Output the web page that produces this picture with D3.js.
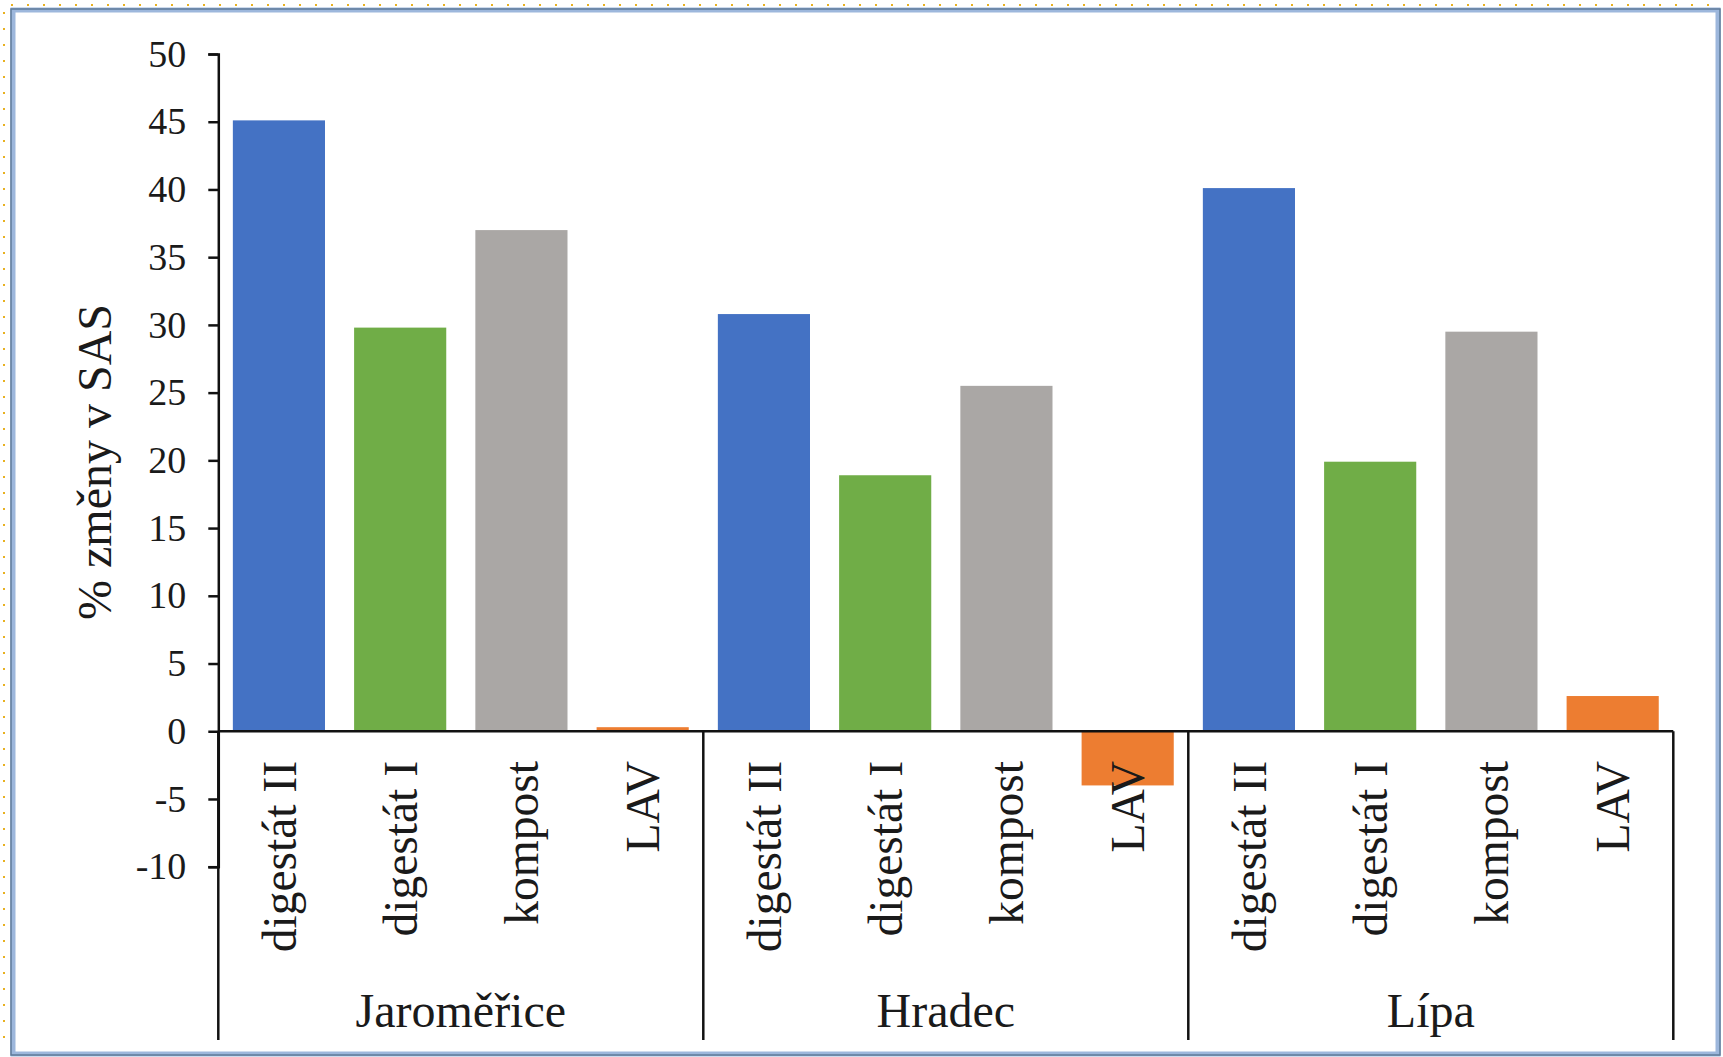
<!DOCTYPE html>
<html>
<head>
<meta charset="utf-8">
<script src="https://cdn.jsdelivr.net/npm/d3@7"></script>
<style>
  html, body { margin: 0; padding: 0; background: #ffffff; }
  svg { display: block; }
  text { font-family: "Liberation Serif", "Times New Roman", serif; fill: #1a1a1a; }
</style>
</head>
<body>
<svg id="chart" width="1723" height="1057"></svg>
<script>
// Sites (outer category level) and treatments (inner level)
const sites = ["Jaroměřice", "Hradec", "Lípa"];
const treatments = ["digestát II", "digestát I", "kompost", "LAV"];

// % change in SAS per treatment, one array per site
const jaromericeValues = [45.1, 29.8, 37.0, 0.3];
const hradecValues = [30.8, 18.9, 25.5, -4.0];
const lipaValues = [40.1, 19.9, 29.5, 2.6];

const yTicks = [-10, -5, 0, 5, 10, 15, 20, 25, 30, 35, 40, 45, 50];
const treatmentColors = ["#4472C4", "#70AD47", "#AAA7A5", "#ED7D31"];

const siteValues = [jaromericeValues, hradecValues, lipaValues];
const rows = [];
sites.forEach((s, i) => {
  treatments.forEach((t, j) => {
    rows.push({ site: s, treatment: t, key: s + "|" + t, value: siteValues[i][j], ti: j });
  });
});

const svg = d3.select("#chart");
const W = 1723, H = 1057;

// Frame around the chart object
svg.append("rect").attr("x", 0).attr("y", 0).attr("width", W).attr("height", H).attr("fill", "#ffffff");
const dotsTop = d3.range(12, W - 10, 16);
svg.append("g").selectAll("rect").data(dotsTop).join("rect")
  .attr("x", d => d - 1).attr("y", 4).attr("width", 2).attr("height", 2).attr("fill", "#e8b020");
const dotsLeft = d3.range(13, H - 4, 16);
svg.append("g").selectAll("rect").data(dotsLeft).join("rect")
  .attr("x", 3).attr("y", d => d - 1).attr("width", 2).attr("height", 2).attr("fill", "#e8b020");
svg.append("rect").attr("x", 13).attr("y", 10).attr("width", 1705).attr("height", 1044)
  .attr("fill", "none").attr("stroke", "#9db7dc").attr("stroke-width", 5);
svg.append("rect").attr("x", 11).attr("y", 9).attr("width", 1709).attr("height", 1046)
  .attr("fill", "none").attr("stroke", "#5f7b99").attr("stroke-width", 1.5);

// Plot geometry
const x0 = 218.3, x1 = 1673.3;
const yTop = 54, yBottomTick = 866.7, catBottom = 1040;

const x = d3.scaleBand()
  .domain(rows.map(d => d.key))
  .range([x0, x1])
  .paddingInner(0.24)
  .paddingOuter(0.12);

const xSite = d3.scaleBand().domain(sites).range([x0, x1]);

const y = d3.scaleLinear().domain([-10, 50]).range([yBottomTick, yTop]);

// Bars
svg.append("g").selectAll("rect").data(rows).join("rect")
  .attr("x", d => x(d.key))
  .attr("width", x.bandwidth())
  .attr("y", d => y(Math.max(0, d.value)))
  .attr("height", d => Math.abs(y(d.value) - y(0)))
  .attr("fill", d => treatmentColors[d.ti]);

// Value axis
const yAxis = svg.append("g")
  .attr("transform", `translate(${x0},0)`)
  .call(d3.axisLeft(y).tickValues(yTicks).tickSize(10).tickPadding(22).tickFormat(d3.format("d")));
yAxis.select(".domain").attr("stroke", "#111").attr("stroke-width", 2.5);
yAxis.selectAll(".tick line").attr("stroke", "#111").attr("stroke-width", 2.5);
yAxis.selectAll(".tick text")
  .attr("font-size", 38).attr("fill", "#1a1a1a")
  .attr("font-family", "'Liberation Serif', 'Times New Roman', serif")
  .text(d => d < 0 ? "-" + Math.abs(d) : d);

// Value axis title
svg.append("text")
  .attr("transform", `translate(111, 462) rotate(-90)`)
  .attr("text-anchor", "middle")
  .attr("font-size", 48)
  .text("% změny v SAS");

// Category axis line at zero
svg.append("line")
  .attr("x1", x0).attr("x2", x1)
  .attr("y1", y(0)).attr("y2", y(0))
  .attr("stroke", "#111").attr("stroke-width", 2.5);

// Group dividers of the two-level category axis
const dividers = sites.map(s => xSite(s)).concat([x1]);
svg.append("g").selectAll("line").data(dividers).join("line")
  .attr("x1", d => d).attr("x2", d => d)
  .attr("y1", y(0)).attr("y2", catBottom)
  .attr("stroke", "#111").attr("stroke-width", 2.5);

// Treatment labels, rotated
svg.append("g").selectAll("text").data(rows).join("text")
  .attr("transform", d => `translate(${x(d.key) + x.bandwidth() / 2}, 761) rotate(-90)`)
  .attr("text-anchor", "end")
  .attr("dy", "0.35em")
  .attr("font-size", 47.5)
  .text(d => d.treatment);

// Site labels
svg.append("g").selectAll("text").data(sites).join("text")
  .attr("x", d => xSite(d) + xSite.bandwidth() / 2)
  .attr("y", 1027)
  .attr("text-anchor", "middle")
  .attr("font-size", 48)
  .text(d => d);
</script>
</body>
</html>
